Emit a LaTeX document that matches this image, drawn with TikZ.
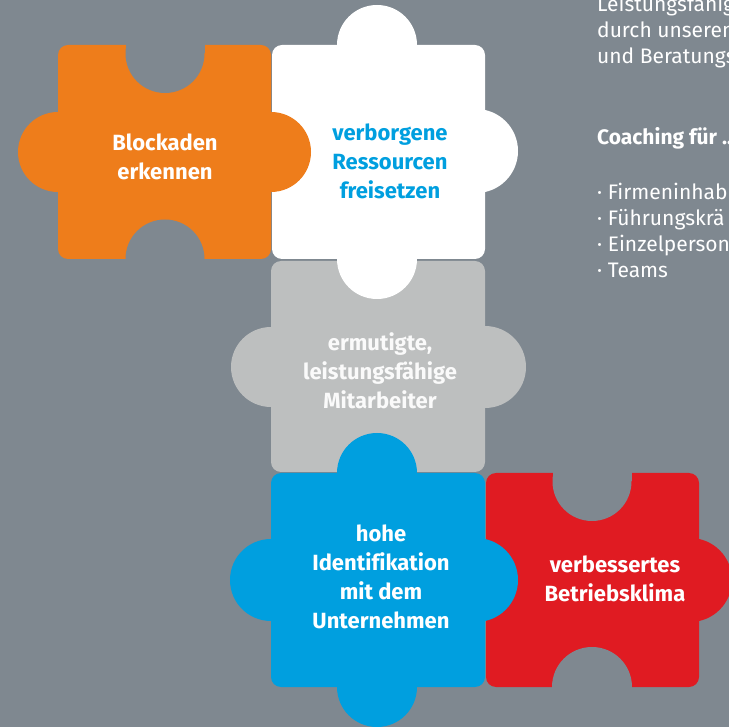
\documentclass[tikz,border=0pt]{standalone}
\usepackage{fontspec}
\setmainfont[Ligatures=NoCommon]{Fira Sans}
\definecolor{backgray}{HTML}{7F8890}
\definecolor{puzzleorange}{HTML}{EE7D1B}
\definecolor{puzzlegray}{HTML}{BDBFBF}
\definecolor{puzzleblue}{HTML}{009FDF}
\definecolor{puzzlered}{HTML}{E01B22}
\begin{document}
\begin{tikzpicture}[
            x=1pt, y=-1pt,
            body/.style={rounded corners=10pt},
            notch/.style={fill=backgray},
            piecetext/.style={font=\bfseries\fontsize{22}{29}\selectfont, align=center, text=white, inner sep=0pt},
            sidetext/.style={font=\fontsize{21}{26}\selectfont, text=white, anchor=base west, inner sep=0pt}
        ]
        \useasboundingbox (0,0) rectangle (729,727);
        \fill[backgray] (0,0) rectangle (729,727);
        \clip (0,0) rectangle (729,727);
        % gray piece
        \fill[puzzlegray, body] (271,261) rectangle (485,472);
        \fill[puzzlegray] (271,367) circle [radius=40] (485,367) circle [radius=41];
        % white piece
        \fill[white, body] (272,45) rectangle (485,259);
        \fill[white] (377,45) circle [radius=40] (476,151) circle [radius=42] (377,259) circle [radius=40];
        % orange piece
        \fill[puzzleorange, body] (58,45) rectangle (271,259);
        \fill[puzzleorange] (58,152) circle [radius=40] (271,152) circle [radius=40];
        \fill[notch] (125.5,40) rectangle (204.5,53.5);
        \fill[notch] (165,53.5) circle [radius=39.5];
        \fill[notch] (165,259) circle [radius=39.5];
        % red piece
        \fill[puzzlered, body] (486,473) rectangle (699,687);
        \fill[puzzlered] (690,580) circle [radius=42];
        \fill[notch] (552.5,468) rectangle (631.5,481.5);
        \fill[notch] (592,481.5) circle [radius=39.5];
        \fill[notch] (592,687) circle [radius=40];
        % blue piece
        \fill[puzzleblue, body] (271,473) rectangle (485,687);
        \fill[puzzleblue] (377,473) circle [radius=40] (271,580) circle [radius=41]
            (476,580) circle [radius=42] (377,687) circle [radius=40];
        % labels
        \node[piecetext] (blockaden) at (165,157) {Blockaden\\erkennen};
        \node[piecetext, text=puzzleblue] (ressourcen) at (390,161) {verborgene\\Ressourcen\\freisetzen};
        \node[piecetext, text=white!92!puzzlegray] (mitarbeiter) at (380,371) {ermutigte,\\leistungsfähige\\Mitarbeiter};
        \node[piecetext] (identifikation) at (381,577) {hohe\\Identifikation\\mit dem\\Unternehmen};
        \node[piecetext] (klima) at (615,579) {verbessertes\\Betriebsklima};
        % text on the right
        \node[sidetext] (leistung) at (597,12) {Leistungsfähig};
        \node[sidetext] (durch) at (597,38) {durch unseren};
        \node[sidetext] (beratung) at (597,64) {und Beratungs};
        \node[sidetext, font=\bfseries\fontsize{21}{26}\selectfont] (coaching) at (597,145) {Coaching für ..};
        \node[sidetext] (inhaber) at (597,200) {· Firmeninhab};
        \node[sidetext] (fuehrung) at (597,226) {· Führungskrä};
        \node[sidetext] (einzel) at (597,252) {· Einzelperson};
        \node[sidetext] (teams) at (597,278) {· Teams};
\end{tikzpicture}
\end{document}
